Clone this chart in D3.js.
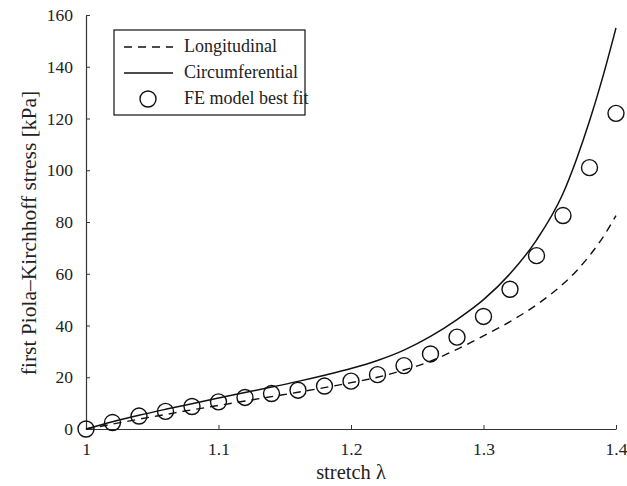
<!DOCTYPE html>
<html>
<head>
<meta charset="utf-8">
<script src="https://d3js.org/d3.v7.min.js"></script>
<style>
  body { margin: 0; background: #fff; }
  svg { font-family: "Liberation Serif", "Times New Roman", serif; }
</style>
</head>
<body>
<div id="chart"></div>
<script>
  // stretch values (x) shared by the curves
  var stretch = [1.00, 1.02, 1.04, 1.06, 1.08, 1.10, 1.12, 1.14, 1.16, 1.18, 1.20,
                 1.22, 1.24, 1.26, 1.28, 1.30, 1.32, 1.34, 1.36, 1.37, 1.38, 1.39, 1.40];
  var longitudinal = [0, 1.9, 3.8, 5.6, 7.4, 9.1, 10.8, 12.5, 14.2, 16.0, 17.9,
                      20.0, 22.8, 26.2, 30.8, 36.0, 41.5, 48.0, 56.0, 61.0, 67.0, 74.0, 82.5];
  var circumferential = [0, 2.8, 5.3, 7.6, 9.8, 12.0, 14.1, 16.2, 18.4, 20.8, 23.4,
                         26.5, 30.5, 35.8, 42.3, 50.0, 60.0, 73.0, 91.0, 104.0, 119.0, 136.0, 155.0];

  // FE model best fit points
  var feStretch = [1.00, 1.02, 1.04, 1.06, 1.08, 1.10, 1.12, 1.14, 1.16, 1.18, 1.20,
                   1.22, 1.24, 1.26, 1.28, 1.30, 1.32, 1.34, 1.36, 1.38, 1.40];
  var feStress = [0, 2.5, 5.0, 6.8, 8.7, 10.5, 12.2, 13.7, 15.0, 16.6, 18.5,
                  21.0, 24.5, 29.0, 35.5, 43.5, 54.0, 67.0, 82.5, 101.0, 122.0];

  var xTicks = [1, 1.1, 1.2, 1.3, 1.4];
  var yTicks = [0, 20, 40, 60, 80, 100, 120, 140, 160];

  var width = 627, height = 486;
  var margin = { top: 15, right: 11, bottom: 57, left: 86 };

  var svg = d3.select("#chart").append("svg")
    .attr("width", width)
    .attr("height", height);

  var x = d3.scaleLinear().domain([1, 1.4]).range([margin.left, width - margin.right]);
  var y = d3.scaleLinear().domain([0, 160]).range([height - margin.bottom, margin.top]);

  // axes (ticks pointing inward)
  svg.append("g")
    .attr("transform", "translate(0," + (height - margin.bottom) + ")")
    .call(d3.axisBottom(x).tickValues(xTicks).tickSizeInner(-4).tickSizeOuter(0)
      .tickPadding(14).tickFormat(d3.format("")));
  svg.append("g")
    .attr("transform", "translate(" + margin.left + ",0)")
    .call(d3.axisLeft(y).tickValues(yTicks).tickSizeInner(-4).tickSizeOuter(0)
      .tickPadding(13).tickFormat(d3.format("")));

  svg.selectAll(".domain").attr("stroke", "#333").attr("stroke-width", 1.2);
  svg.selectAll(".tick line").attr("stroke", "#333");
  svg.selectAll(".tick text")
    .attr("font-family", "Liberation Serif")
    .attr("font-size", 17.5)
    .attr("fill", "#222");

  // lines
  var line = d3.line()
    .x(function (d) { return x(d[0]); })
    .y(function (d) { return y(d[1]); })
    .curve(d3.curveMonotoneX);

  svg.append("path")
    .datum(d3.zip(stretch, longitudinal))
    .attr("d", line)
    .attr("fill", "none")
    .attr("stroke", "#111")
    .attr("stroke-width", 1.4)
    .attr("stroke-dasharray", "8,6");

  svg.append("path")
    .datum(d3.zip(stretch, circumferential))
    .attr("d", line)
    .attr("fill", "none")
    .attr("stroke", "#111")
    .attr("stroke-width", 1.5);

  svg.selectAll("circle.fe")
    .data(d3.zip(feStretch, feStress))
    .enter().append("circle")
    .attr("class", "fe")
    .attr("cx", function (d) { return x(d[0]); })
    .attr("cy", function (d) { return y(d[1]); })
    .attr("r", 8)
    .attr("fill", "none")
    .attr("stroke", "#111")
    .attr("stroke-width", 1.4);

  // axis labels
  svg.append("text")
    .attr("x", (x.range()[0] + x.range()[1]) / 2)
    .attr("y", 479)
    .attr("text-anchor", "middle")
    .attr("font-size", 20.5)
    .attr("fill", "#222")
    .text("stretch λ");

  svg.append("text")
    .attr("transform", "translate(36,233) rotate(-90)")
    .attr("text-anchor", "middle")
    .attr("font-size", 21.5)
    .attr("fill", "#222")
    .text("first Piola–Kirchhoff stress [kPa]");

  // legend
  var legend = svg.append("g");
  legend.append("rect")
    .attr("x", 114).attr("y", 30)
    .attr("width", 191).attr("height", 85)
    .attr("fill", "#fff")
    .attr("stroke", "#111")
    .attr("stroke-width", 1.2);

  var legendRows = ["Longitudinal", "Circumferential", "FE model best fit"];
  var rowY = [47, 73, 99];

  legend.append("line")
    .attr("x1", 124).attr("x2", 173).attr("y1", rowY[0]).attr("y2", rowY[0])
    .attr("stroke", "#111").attr("stroke-width", 1.4).attr("stroke-dasharray", "8,6");
  legend.append("line")
    .attr("x1", 124).attr("x2", 173).attr("y1", rowY[1]).attr("y2", rowY[1])
    .attr("stroke", "#111").attr("stroke-width", 1.5);
  legend.append("circle")
    .attr("cx", 148).attr("cy", rowY[2]).attr("r", 8)
    .attr("fill", "none").attr("stroke", "#111").attr("stroke-width", 1.4);

  legend.selectAll("text.lg")
    .data(legendRows)
    .enter().append("text")
    .attr("class", "lg")
    .attr("x", 184)
    .attr("y", function (d, i) { return rowY[i]; })
    .attr("dy", "0.27em")
    .attr("font-size", 18)
    .attr("fill", "#222")
    .text(function (d) { return d; });
</script>
</body>
</html>
